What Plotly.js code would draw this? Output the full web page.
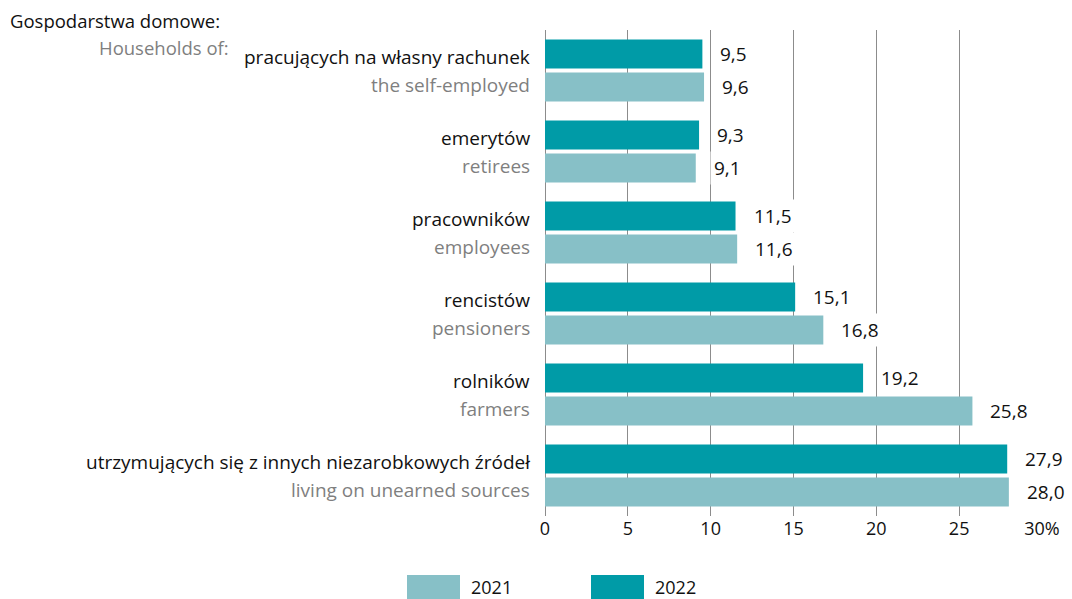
<!DOCTYPE html>
<html><head><meta charset="utf-8">
<script src="https://cdn.plot.ly/plotly-3.0.1.min.js"></script>
<style>html,body{margin:0;padding:0;background:#fff}#c{width:1072px;height:599px}</style>
</head><body><div id="c"></div>
<script>
const categoriesPL = ["pracujących na własny rachunek","emerytów","pracowników","rencistów","rolników","utrzymujących się z innych niezarobkowych źródeł"];
const categoriesEN = ["the self-employed","retirees","employees","pensioners","farmers","living on unearned sources"];
const values2021 = [9.6, 9.1, 11.6, 16.8, 25.8, 28.0];
const values2022 = [9.5, 9.3, 11.5, 15.1, 19.2, 27.9];
const tickVals = [0,5,10,15,20,25,30];
const tickText = ["0","5","10","15","20","25","30%"];
const seriesNames = ["2021","2022"];
const headerPL = "Gospodarstwa domowe:";
const headerEN = "Households of:";

const C21 = "#87c0c7", C22 = "#009ba7", GREY = "#7f7f7f";
const FONT = "Open Sans, Noto Sans, sans-serif";
const fmt = v => v.toFixed(1).replace(".", ",");

// plot-area geometry (px) for placing paper-referenced furniture
const PL = 545, PR = 1042, PT = 30, PB = 516;
const px = x => (x - PL) / (PR - PL);
const py = y => (PB - y) / (PB - PT);

const traces = [
  {type:"bar", orientation:"h", name:seriesNames[1], y:categoriesPL, x:values2022, marker:{color:C22}, hoverinfo:"none", showlegend:false},
  {type:"bar", orientation:"h", name:seriesNames[0], y:categoriesPL, x:values2021, marker:{color:C21}, hoverinfo:"none", showlegend:false}
];

const ann = [];
const off = 16.5, offCat = 14;
const LS = 19;
categoriesPL.forEach((c,i)=>{
  ann.push({x:0, y:c, xref:"x", yref:"y", text:c, showarrow:false, xanchor:"right", yanchor:"middle", xshift:-13, yshift:offCat, font:{size:LS,color:"#111",family:FONT}});
  ann.push({x:0, y:c, xref:"x", yref:"y", text:categoriesEN[i], showarrow:false, xanchor:"right", yanchor:"middle", xshift:-13, yshift:-offCat, font:{size:LS,color:GREY,family:FONT}});
  ann.push({x:values2022[i], y:c, xref:"x", yref:"y", text:fmt(values2022[i]), showarrow:false, xanchor:"left", yanchor:"middle", xshift:14, yshift:off, bgcolor:"#fff", borderpad:3, font:{size:LS,color:"#111",family:FONT}});
  ann.push({x:values2021[i], y:c, xref:"x", yref:"y", text:fmt(values2021[i]), showarrow:false, xanchor:"left", yanchor:"middle", xshift:14, yshift:-off, bgcolor:"#fff", borderpad:3, font:{size:LS,color:"#111",family:FONT}});
});
ann.push({x:px(8), y:py(21), xref:"paper", yref:"paper", text:headerPL, showarrow:false, xanchor:"left", yanchor:"middle", font:{size:18.5,color:"#111",family:FONT}});
ann.push({x:px(231), y:py(47), xref:"paper", yref:"paper", text:headerEN, showarrow:false, xanchor:"right", yanchor:"middle", font:{size:18.5,color:GREY,family:FONT}});

// legend (drawn manually with large swatches)
const shapes = [];
const legendItems = [{name:seriesNames[0], color:C21, x0:407}, {name:seriesNames[1], color:C22, x0:591}];
legendItems.forEach(it=>{
  shapes.push({type:"rect", xref:"paper", yref:"paper", x0:px(it.x0), x1:px(it.x0+53), y0:py(599), y1:py(575), fillcolor:it.color, line:{width:0}, layer:"above"});
  ann.push({x:px(it.x0+62), y:py(587), xref:"paper", yref:"paper", text:it.name, showarrow:false, xanchor:"left", yanchor:"middle", font:{size:18,color:"#111",family:FONT}});
});

const layout = {
  width:1072, height:599,
  margin:{l:PL, r:1072-PR, t:PT, b:599-PB, pad:0},
  paper_bgcolor:"#fff", plot_bgcolor:"#fff",
  barmode:"group", bargap:0.185, bargroupgap:0.12,
  showlegend:false,
  font:{family:FONT, size:18, color:"#111"},
  xaxis:{range:[0,30], tickvals:tickVals, ticktext:tickText, showgrid:true, gridcolor:"#8c8c8c", gridwidth:1,
         zeroline:true, zerolinecolor:"#8c8c8c", zerolinewidth:1, showline:false, ticks:"",
         tickfont:{size:18,color:"#111"}, fixedrange:true},
  yaxis:{type:"category", autorange:"reversed", showticklabels:false, showgrid:false, zeroline:false, ticks:"", showline:false, fixedrange:true},
  annotations:ann, shapes:shapes
};
Plotly.newPlot("c", traces, layout, {displayModeBar:false, staticPlot:true});
</script></body></html>
